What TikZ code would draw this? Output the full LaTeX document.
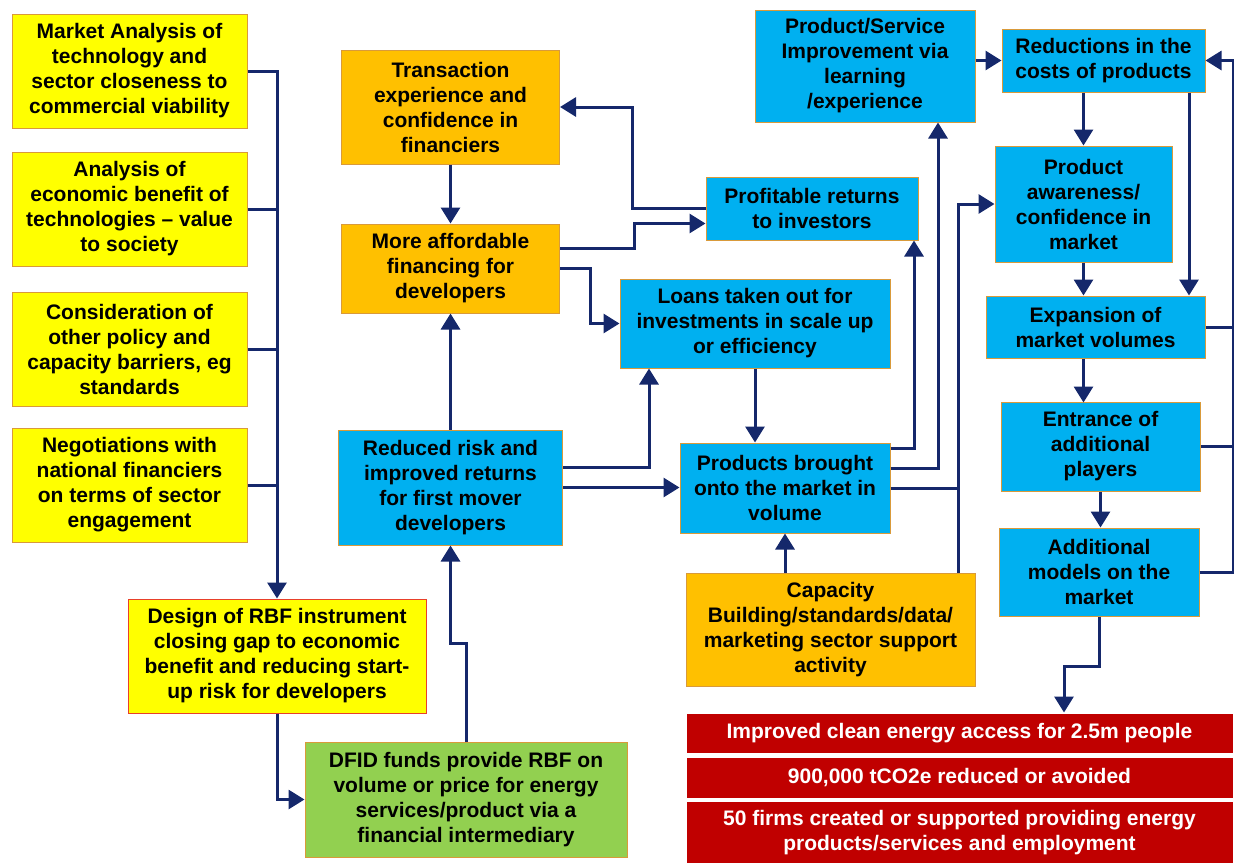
\documentclass[tikz,border=0pt]{standalone}
\usepackage{fontspec}
\setmainfont{Liberation Sans}
\usetikzlibrary{arrows.meta}

\definecolor{boxyellow}{HTML}{FFFF00}
\definecolor{boxorange}{HTML}{FFC000}
\definecolor{boxblue}{HTML}{00B0F0}
\definecolor{boxgreen}{HTML}{92D050}
\definecolor{boxred}{HTML}{C00000}
\definecolor{rimtan}{HTML}{D99A3A}
\definecolor{rimred}{HTML}{E8402A}
\definecolor{linknavy}{HTML}{15286B}

\begin{document}
\begin{tikzpicture}[x=1pt, y=-1pt,
    box/.style ={draw=rimtan, line width=1pt, align=center, inner sep=2pt,
                 font=\fontsize{21}{25}\selectfont\bfseries},
    yellowbox/.style ={box, fill=boxyellow},
    orangebox/.style ={box, fill=boxorange},
    bluebox/.style ={box, fill=boxblue},
    greenbox/.style ={box, fill=boxgreen},
    redbox/.style ={box, fill=boxred, draw=white, text=white,
                    minimum width=547pt, font=\fontsize{21}{25}\selectfont\bfseries},
    flow/.style ={linknavy, line width=3pt, -{Triangle[length=16pt,width=19pt]}},
    tie/.style ={linknavy, line width=3pt}]
   \useasboundingbox (0,0) rectangle (1234,863);

   \node[yellowbox, minimum width=235pt, minimum height=114pt] (MA) at (129.5,71)
      {Market Analysis of\\technology and\\sector closeness to\\commercial viability};
   \node[yellowbox, minimum width=235pt, minimum height=114pt] (AE) at (129.5,209)
      {Analysis of\\economic benefit of\\technologies -- value\\to society};
   \node[yellowbox, minimum width=235pt, minimum height=114pt] (CO) at (129.5,349.5)
      {Consideration of\\other policy and\\capacity barriers, eg\\standards};
   \node[yellowbox, minimum width=235pt, minimum height=114pt] (NE) at (129.5,485)
      {Negotiations with\\national financiers\\on terms of sector\\engagement};
   \node[yellowbox, draw=rimred, minimum width=298pt, minimum height=114pt] (DE) at (277,656)
      {Design of RBF instrument\\closing gap to economic\\benefit and reducing start-\\up risk for developers};
   \node[greenbox, minimum width=322pt, minimum height=115pt] (DF) at (466,799.5)
      {DFID funds provide RBF on\\volume or price for energy\\services/product via a\\financial intermediary};

   \node[orangebox, minimum width=218pt, minimum height=114pt] (TR) at (450.5,107)
      {Transaction\\experience and\\confidence in\\financiers};
   \node[orangebox, minimum width=218pt, minimum height=89pt] (MF) at (450.5,268.5)
      {More affordable\\financing for\\developers};
   \node[bluebox, minimum width=224pt, minimum height=115pt] (RR) at (450.5,487.5)
      {Reduced risk and\\improved returns\\for first mover\\developers};

   \node[bluebox, minimum width=212pt, minimum height=63pt] (PR) at (812,208.5)
      {Profitable returns\\to investors};
   \node[bluebox, minimum width=270pt, minimum height=89pt] (LO) at (755,323.5)
      {Loans taken out for\\investments in scale up\\or efficiency};
   \node[bluebox, minimum width=210pt, minimum height=90pt] (PB) at (785,488)
      {Products brought\\onto the market in\\volume};
   \node[orangebox, minimum width=289pt, minimum height=113pt] (CB) at (830.5,629.5)
      {Capacity\\Building/standards/data/\\marketing sector support\\activity};

   \node[bluebox, minimum width=220pt, minimum height=112pt] (PS) at (865,66)
      {Product/Service\\Improvement via\\learning\\/experience};
   \node[bluebox, minimum width=203pt, minimum height=63pt] (RC) at (1103.5,60.5)
      {Reductions in the\\costs of products};
   \node[bluebox, minimum width=177pt, minimum height=116pt] (PA) at (1083.5,204)
      {Product\\awareness/\\confidence in\\market};
   \node[bluebox, minimum width=219pt, minimum height=62pt] (EX) at (1095.5,327)
      {Expansion of\\market volumes};
   \node[bluebox, minimum width=199pt, minimum height=89pt] (EN) at (1100.5,446.5)
      {Entrance of\\additional\\players};
   \node[bluebox, minimum width=200pt, minimum height=88pt] (AM) at (1099,572)
      {Additional\\models on the\\market};

   \node[redbox, minimum height=40pt] (R1) at (959.5,733)
      {Improved clean energy access for 2.5m people};
   \node[redbox, minimum height=41pt] (R2) at (959.5,777.5)
      {900,000 tCO2e reduced or avoided};
   \node[redbox, minimum height=62pt] (R3) at (959.5,832.5)
      {50 firms created or supported providing energy\\products/services and employment};

   \draw[flow] (MA.east) -| (DE.north);
   \draw[tie] (AE.east) -- (AE.east -| DE.north);
   \draw[tie] (CO.east) -- (CO.east -| DE.north);
   \draw[tie] (NE.east) -- (NE.east -| DE.north);
   \draw[flow] (DE.south) |- (DF.west);
   \draw[flow] (DF.north) -- ++(0,-98) -| (RR.south);

   \draw[flow] (TR.south) -- (MF.north);
   \draw[flow] (RR.north) -- (MF.south);
   \draw[flow] ([yshift=20pt]MF.east) -- ++(74,0) |- ([yshift=-15pt]PR.west);
   \draw[flow] (PR.west) -- ++(-73,0) |- (TR.east);
   \draw[flow] (MF.east) -- ++(30,0) |- (LO.west);
   \draw[flow] (LO.south) -- (LO.south |- PB.north);
   \draw[flow] ([yshift=20pt]RR.east) -| ([xshift=-106pt]LO.south);
   \draw[flow] (RR.east) -- (RR.east -| PB.west);
   \draw[flow] (CB.north -| PB.south) -- (PB.south);

   \draw[flow] ([yshift=40pt]PB.east) -| ([xshift=102pt]PR.south);
   \draw[flow] ([yshift=20pt]PB.east) -| ([xshift=73pt]PS.south);
   \draw[flow] ([xshift=127.5pt]CB.north) |- (PA.west);
   \draw[tie] (PB.east) -- ++(68,0);

   \draw[flow] (PS.east |- RC.west) -- (RC.west);
   \draw[flow] (RC.south -| PA.north) -- (PA.north);
   \draw[flow] ([xshift=85.5pt]RC.south) -- ([xshift=85.5pt]RC.south |- EX.north);
   \draw[flow] (PA.south) -- (PA.south |- EX.north);
   \draw[flow] ([xshift=-12pt]EX.south) -- ++(0,44);
   \draw[flow] (EN.south) -- (EN.south |- AM.north);
   \draw[flow] (AM.south) -- ++(0,50) -| ([xshift=104.5pt]R1.north);

   \draw[flow] (EX.east) -- ++(28,0) |- (RC.east);
   \draw[tie] (EN.east) -- ++(33,0);
   \draw[tie] (AM.east) -- ++(34,0) -- ++(0,-246);
 \end{tikzpicture}
\end{document}
